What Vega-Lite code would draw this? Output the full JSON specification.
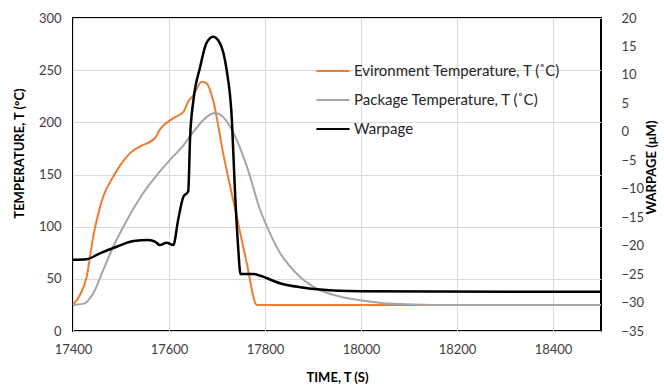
{
  "$schema": "https://vega.github.io/schema/vega-lite/v6.json",
  "width": 528,
  "height": 313,
  "autosize": {"type": "none"},
  "padding": {"left": 73, "top": 18, "right": 63, "bottom": 55},
  "background": "white",
  "config": {
    "font": "Lato",
    "view": {"stroke": "#000000", "strokeWidth": 2},
    "axis": {
      "labelFont": "Lato",
      "labelFontSize": 13,
      "labelColor": "#404040",
      "titleFont": "Lato",
      "titleFontSize": 13,
      "titleFontWeight": "bold",
      "titleColor": "#000000",
      "ticks": false,
      "domain": false,
      "gridColor": "#d9d9d9",
      "gridWidth": 1
    },
    "legend": {
      "labelFont": "Lato",
      "labelFontSize": 15,
      "labelColor": "#262626",
      "labelLimit": 0
    }
  },
  "layer": [
    {
      "data": {
        "values": [
          {"t": 17400, "series": "Evironment Temperature, T (˚C)", "value": 25},
          {"t": 17415, "series": "Evironment Temperature, T (˚C)", "value": 35},
          {"t": 17428, "series": "Evironment Temperature, T (˚C)", "value": 51},
          {"t": 17442, "series": "Evironment Temperature, T (˚C)", "value": 90},
          {"t": 17463, "series": "Evironment Temperature, T (˚C)", "value": 129},
          {"t": 17484, "series": "Evironment Temperature, T (˚C)", "value": 148},
          {"t": 17500, "series": "Evironment Temperature, T (˚C)", "value": 160},
          {"t": 17519, "series": "Evironment Temperature, T (˚C)", "value": 170.5},
          {"t": 17540, "series": "Evironment Temperature, T (˚C)", "value": 177},
          {"t": 17571, "series": "Evironment Temperature, T (˚C)", "value": 185},
          {"t": 17581, "series": "Evironment Temperature, T (˚C)", "value": 193},
          {"t": 17609, "series": "Evironment Temperature, T (˚C)", "value": 204},
          {"t": 17630, "series": "Evironment Temperature, T (˚C)", "value": 210},
          {"t": 17640, "series": "Evironment Temperature, T (˚C)", "value": 220},
          {"t": 17651, "series": "Evironment Temperature, T (˚C)", "value": 226},
          {"t": 17668, "series": "Evironment Temperature, T (˚C)", "value": 239},
          {"t": 17678, "series": "Evironment Temperature, T (˚C)", "value": 237.5},
          {"t": 17692, "series": "Evironment Temperature, T (˚C)", "value": 221},
          {"t": 17713, "series": "Evironment Temperature, T (˚C)", "value": 170},
          {"t": 17741, "series": "Evironment Temperature, T (˚C)", "value": 110},
          {"t": 17762, "series": "Evironment Temperature, T (˚C)", "value": 65},
          {"t": 17783, "series": "Evironment Temperature, T (˚C)", "value": 25},
          {"t": 18500, "series": "Evironment Temperature, T (˚C)", "value": 25},
          {"t": 17400, "series": "Package Temperature, T (˚C)", "value": 25},
          {"t": 17421, "series": "Package Temperature, T (˚C)", "value": 26},
          {"t": 17442, "series": "Package Temperature, T (˚C)", "value": 36},
          {"t": 17463, "series": "Package Temperature, T (˚C)", "value": 58.5},
          {"t": 17484, "series": "Package Temperature, T (˚C)", "value": 81},
          {"t": 17512, "series": "Package Temperature, T (˚C)", "value": 106},
          {"t": 17546, "series": "Package Temperature, T (˚C)", "value": 132},
          {"t": 17581, "series": "Package Temperature, T (˚C)", "value": 153},
          {"t": 17602, "series": "Package Temperature, T (˚C)", "value": 164},
          {"t": 17630, "series": "Package Temperature, T (˚C)", "value": 178},
          {"t": 17651, "series": "Package Temperature, T (˚C)", "value": 191},
          {"t": 17678, "series": "Package Temperature, T (˚C)", "value": 205},
          {"t": 17696, "series": "Package Temperature, T (˚C)", "value": 209},
          {"t": 17713, "series": "Package Temperature, T (˚C)", "value": 205},
          {"t": 17734, "series": "Package Temperature, T (˚C)", "value": 190},
          {"t": 17762, "series": "Package Temperature, T (˚C)", "value": 158},
          {"t": 17790, "series": "Package Temperature, T (˚C)", "value": 116},
          {"t": 17810, "series": "Package Temperature, T (˚C)", "value": 94},
          {"t": 17831, "series": "Package Temperature, T (˚C)", "value": 75},
          {"t": 17852, "series": "Package Temperature, T (˚C)", "value": 62},
          {"t": 17900, "series": "Package Temperature, T (˚C)", "value": 42.5},
          {"t": 17956, "series": "Package Temperature, T (˚C)", "value": 33},
          {"t": 18005, "series": "Package Temperature, T (˚C)", "value": 29},
          {"t": 18067, "series": "Package Temperature, T (˚C)", "value": 26},
          {"t": 18150, "series": "Package Temperature, T (˚C)", "value": 25},
          {"t": 18500, "series": "Package Temperature, T (˚C)", "value": 25}
        ]
      },
      "mark": {"type": "line", "strokeWidth": 2, "interpolate": "monotone"},
      "encoding": {
        "x": {
          "field": "t", "type": "quantitative",
          "scale": {"domain": [17400, 18500], "nice": false, "zero": false},
          "axis": {
            "values": [17400, 17600, 17800, 18000, 18200, 18400],
            "format": "d",
            "title": "TIME, T (S)",
            "labelFlush": false,
            "labelPadding": 12,
            "titlePadding": 15,
            "grid": true
          }
        },
        "y": {
          "field": "value", "type": "quantitative",
          "scale": {"domain": [0, 300], "nice": false},
          "axis": {
            "orient": "left",
            "values": [0, 50, 100, 150, 200, 250, 300],
            "title": "TEMPERATURE, T (°C)",
            "labelPadding": 12,
            "titlePadding": 12,
            "titleY": 135,
            "grid": true
          }
        },
        "color": {
          "field": "series", "type": "nominal",
          "scale": {
            "domain": ["Evironment Temperature, T (˚C)", "Package Temperature, T (˚C)", "Warpage"],
            "range": ["#ED7D31", "#A5A5A5", "#000000"]
          },
          "legend": {
            "title": null,
            "orient": "none",
            "legendX": 242,
            "legendY": 35,
            "padding": 0,
            "symbolType": "stroke",
            "symbolSize": 1100,
            "symbolStrokeWidth": 2,
            "rowPadding": 3,
            "labelOffset": 3
          }
        }
      }
    },
    {
      "data": {
        "values": [
          {"t": 17400, "series": "Warpage", "w": -22.5},
          {"t": 17428, "series": "Warpage", "w": -22.4},
          {"t": 17456, "series": "Warpage", "w": -21.35},
          {"t": 17491, "series": "Warpage", "w": -20.2},
          {"t": 17526, "series": "Warpage", "w": -19.2},
          {"t": 17557, "series": "Warpage", "w": -19.0},
          {"t": 17571, "series": "Warpage", "w": -19.3},
          {"t": 17581, "series": "Warpage", "w": -19.9},
          {"t": 17595, "series": "Warpage", "w": -19.5},
          {"t": 17609, "series": "Warpage", "w": -19.9},
          {"t": 17619, "series": "Warpage", "w": -15.5},
          {"t": 17630, "series": "Warpage", "w": -11.4},
          {"t": 17640, "series": "Warpage", "w": -10.5},
          {"t": 17644, "series": "Warpage", "w": -0.9},
          {"t": 17651, "series": "Warpage", "w": 5.6},
          {"t": 17665, "series": "Warpage", "w": 11.45},
          {"t": 17678, "series": "Warpage", "w": 15.6},
          {"t": 17692, "series": "Warpage", "w": 16.7},
          {"t": 17706, "series": "Warpage", "w": 15.6},
          {"t": 17720, "series": "Warpage", "w": 10.9},
          {"t": 17731, "series": "Warpage", "w": 2.1},
          {"t": 17737, "series": "Warpage", "w": -9.6},
          {"t": 17744, "series": "Warpage", "w": -20.2},
          {"t": 17749, "series": "Warpage", "w": -25.0},
          {"t": 17776, "series": "Warpage", "w": -25.0},
          {"t": 17790, "series": "Warpage", "w": -25.3},
          {"t": 17831, "series": "Warpage", "w": -26.6},
          {"t": 17873, "series": "Warpage", "w": -27.3},
          {"t": 17915, "series": "Warpage", "w": -27.7},
          {"t": 17998, "series": "Warpage", "w": -28.0},
          {"t": 18331, "series": "Warpage", "w": -28.1},
          {"t": 18500, "series": "Warpage", "w": -28.1}
        ]
      },
      "mark": {"type": "line", "strokeWidth": 2.5, "interpolate": "monotone"},
      "encoding": {
        "x": {"field": "t", "type": "quantitative"},
        "y": {
          "field": "w", "type": "quantitative",
          "scale": {"domain": [-35, 20], "nice": false, "zero": false},
          "axis": {
            "orient": "right",
            "values": [-35, -30, -25, -20, -15, -10, -5, 0, 5, 10, 15, 20],
            "title": "WARPAGE (μM)",
            "titleAngle": 270,
            "titleBaseline": "top",
            "labelPadding": 20,
            "titlePadding": 2,
            "titleY": 149,
            "grid": false
          }
        },
        "color": {"field": "series", "type": "nominal"}
      }
    }
  ],
  "resolve": {"scale": {"y": "independent"}, "axis": {"y": "independent"}}
}
